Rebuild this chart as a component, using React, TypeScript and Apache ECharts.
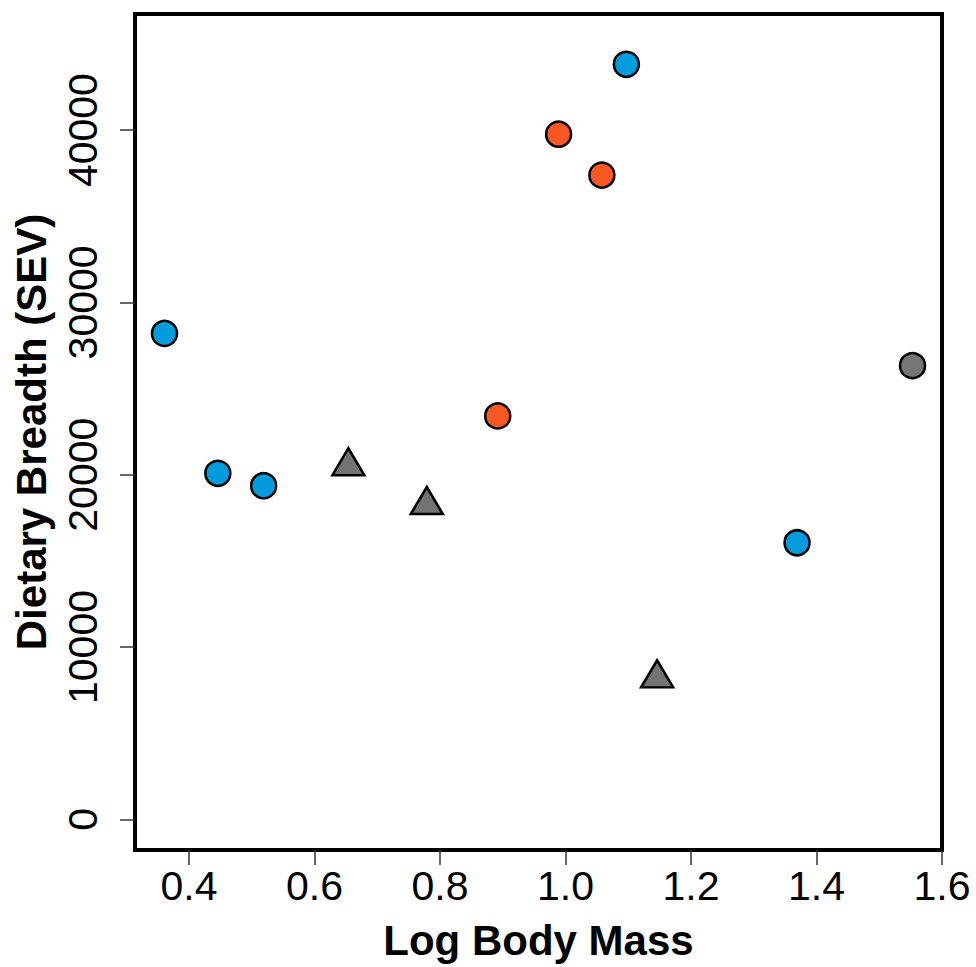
import React, { useEffect, useRef } from "react";
import * as echarts from "echarts";

const xTicks = [0.4, 0.6, 0.8, 1.0, 1.2, 1.4, 1.6];
const yTicks = [0, 10000, 20000, 30000, 40000];

const blueX = [0.361, 0.446, 0.519, 1.097, 1.369];
const blueY = [28200, 20080, 19360, 43820, 16050];
const orangeX = [0.989, 1.058, 0.892];
const orangeY = [39760, 37390, 23410];
const greyCircleX = [1.553];
const greyCircleY = [26330];
const triX = [0.654, 0.779, 1.146];
const triY = [20490, 18240, 8180];

const xTitle = "Log Body Mass";
const yTitle = "Dietary Breadth (SEV)";

const FONT = "'Liberation Sans', Arial, sans-serif";

const zip = (xs: number[], ys: number[]) => xs.map((x, i) => [x, ys[i]]);

export default function App() {
  const ref = useRef<HTMLDivElement>(null);
  useEffect(() => {
    if (!ref.current) return;
    const chart = echarts.init(ref.current, null, { renderer: "svg" });
    const circleStyle = (color: string) => ({
      color,
      borderColor: "#000",
      borderWidth: 2.5,
      opacity: 1,
    });
    chart.setOption({
      animation: false,
      backgroundColor: "#fff",
      grid: {
        left: 135,
        right: 34,
        top: 14,
        bottom: 117,
        show: true,
        borderColor: "#000",
        borderWidth: 4,
        backgroundColor: "transparent",
      },
      xAxis: {
        type: "value",
        min: 0.314,
        max: 1.6,
        splitLine: { show: false },
        axisLine: { show: false, onZero: false },
        axisTick: {
          show: true,
          length: 15,
          inside: false,
          customValues: xTicks,
          lineStyle: { color: "#333", width: 1.5 },
        },
        axisLabel: {
          customValues: xTicks,
          formatter: (v: number) => v.toFixed(1),
          fontSize: 41,
          fontFamily: FONT,
          color: "#000",
          margin: 15,
        },
        name: xTitle,
        nameLocation: "middle",
        nameGap: 69,
        nameTextStyle: {
          fontSize: 42,
          fontWeight: "bold",
          fontFamily: FONT,
          color: "#000",
        },
      },
      yAxis: {
        type: "value",
        min: -1782,
        max: 46738,
        splitLine: { show: false },
        axisLine: { show: false, onZero: false },
        axisTick: {
          show: true,
          length: 15,
          inside: false,
          customValues: yTicks,
          lineStyle: { color: "#333", width: 1.5 },
        },
        axisLabel: {
          customValues: yTicks,
          formatter: (v: number) => String(v),
          rotate: 90,
          fontSize: 41,
          fontFamily: FONT,
          color: "#000",
          margin: 32,
        },
        name: yTitle,
        nameLocation: "middle",
        nameRotate: 90,
        nameGap: 83,
        nameTextStyle: {
          fontSize: 42,
          fontWeight: "bold",
          fontFamily: FONT,
          color: "#000",
        },
      },
      series: [
        {
          type: "scatter",
          data: zip(triX, triY),
          symbol: "triangle",
          symbolSize: [32, 27],
          symbolOffset: [0, -4.5],
          itemStyle: circleStyle("#737373"),
        },
        {
          type: "scatter",
          data: zip(blueX, blueY),
          symbol: "circle",
          symbolSize: 25,
          itemStyle: circleStyle("#009bdc"),
        },
        {
          type: "scatter",
          data: zip(orangeX, orangeY),
          symbol: "circle",
          symbolSize: 25,
          itemStyle: circleStyle("#fa5722"),
        },
        {
          type: "scatter",
          data: zip(greyCircleX, greyCircleY),
          symbol: "circle",
          symbolSize: 25,
          itemStyle: circleStyle("#767676"),
        },
      ],
    });
    return () => chart.dispose();
  }, []);
  return (
    <div
      ref={ref}
      style={{ position: "fixed", left: 0, top: 0, width: 976, height: 967 }}
    />
  );
}
